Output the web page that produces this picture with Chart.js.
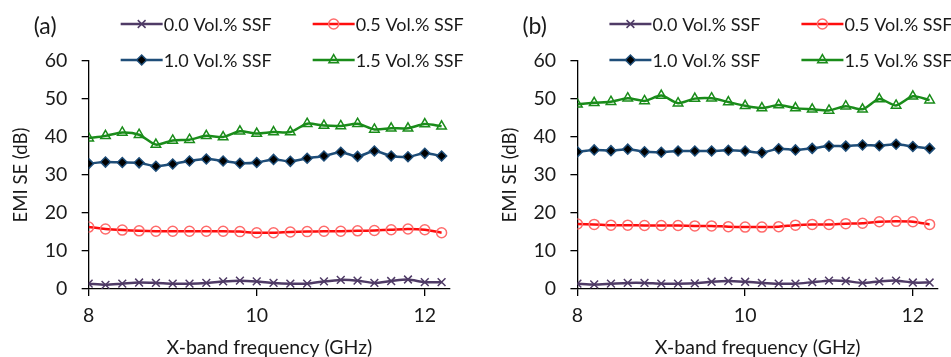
<!DOCTYPE html>
<html>
<head>
<meta charset="utf-8">
<script src="https://cdn.jsdelivr.net/npm/chart.js@4"></script>
<style>
  html, body { margin: 0; padding: 0; background: #fff; }
  .row { display: flex; width: 951px; height: 357px; }
  .panel { position: relative; height: 357px; }
</style>
</head>
<body>
<div class="row">
  <div class="panel" style="width:475px"><canvas id="chartA"></canvas></div>
  <div class="panel" style="width:476px"><canvas id="chartB"></canvas></div>
</div>
<script>
// X-band frequency points (GHz)
const freq = [8.0, 8.2, 8.4, 8.6, 8.8, 9.0, 9.2, 9.4, 9.6, 9.8, 10.0,
  10.2, 10.4, 10.6, 10.8, 11.0, 11.2, 11.4, 11.6, 11.8, 12.0, 12.2];
const xTicks = [8, 10, 12];
const seriesNames = ["0.0 Vol.% SSF", "0.5 Vol.% SSF", "1.0 Vol.% SSF", "1.5 Vol.% SSF"];

// panel (a)
const a00 = [1.4, 1.1, 1.4, 1.7, 1.6, 1.4, 1.4, 1.6, 2.0, 2.2, 2.0, 1.6, 1.4, 1.4, 2.0, 2.4, 2.2, 1.6, 2.1, 2.5, 1.8, 1.8];
const a05 = [16.3, 15.8, 15.5, 15.3, 15.2, 15.2, 15.2, 15.2, 15.2, 15.1, 14.8, 14.8, 15.0, 15.1, 15.2, 15.2, 15.3, 15.4, 15.6, 15.8, 15.6, 14.8];
const a10 = [33.0, 33.4, 33.3, 33.2, 32.3, 32.9, 33.7, 34.2, 33.7, 33.1, 33.3, 34.1, 33.6, 34.4, 35.0, 36.0, 34.9, 36.3, 35.0, 34.8, 35.7, 35.0];
const a15 = [39.7, 40.3, 41.2, 40.6, 38.0, 39.1, 39.3, 40.3, 40.0, 41.5, 40.9, 41.3, 41.3, 43.5, 43.0, 42.9, 43.5, 42.0, 42.3, 42.3, 43.4, 42.8];

// panel (b)
const b00 = [1.4, 1.2, 1.4, 1.6, 1.6, 1.4, 1.4, 1.5, 1.9, 2.1, 1.9, 1.6, 1.4, 1.4, 1.8, 2.2, 2.1, 1.6, 2.0, 2.2, 1.7, 1.7];
const b05 = [17.1, 17.0, 16.8, 16.8, 16.7, 16.7, 16.7, 16.6, 16.6, 16.4, 16.3, 16.3, 16.4, 16.8, 17.0, 17.0, 17.2, 17.3, 17.7, 17.8, 17.7, 17.0];
const b10 = [36.1, 36.6, 36.4, 36.8, 36.1, 36.0, 36.3, 36.3, 36.3, 36.5, 36.3, 35.9, 36.9, 36.6, 37.0, 37.6, 37.6, 37.9, 37.7, 38.1, 37.5, 37.0];
const b15 = [48.6, 49.0, 49.3, 50.2, 49.5, 50.9, 48.9, 50.1, 50.2, 49.2, 48.2, 47.6, 48.4, 47.6, 47.3, 47.0, 48.1, 47.3, 50.0, 48.3, 50.7, 49.7];

const FONT = "Lato, 'Open Sans', sans-serif";
const TXT = "#1a1a1a";

const styles = [
  { color: "#4f3b66", pointStyle: "crossRot", fill: "#4f3b66", radius: 5.5 },
  { color: "#ff0d0d", pointStyle: "circle", fill: "rgba(255,255,255,0)", radius: 5, pointColor: "#ff6b6b" },
  { color: "#1f4e79", pointStyle: "rectRot", fill: "#000000", radius: 5 },
  { color: "#1a8c1a", pointStyle: "triangle", fill: "rgba(255,255,255,0)", radius: 5.5 }
];

function toXY(vals) {
  return vals.map((v, i) => ({ x: freq[i], y: v }));
}

// legend in 2x2 grid plus the panel letter, drawn above the plot
const panelDecor = {
  id: "panelDecor",
  afterDraw(chart, args, opts) {
    const ctx = chart.ctx;
    const left = chart.chartArea.left;
    ctx.save();
    ctx.fillStyle = TXT;
    ctx.font = "23px " + FONT;
    ctx.textBaseline = "middle";
    ctx.textAlign = "left";
    ctx.fillText(opts.letter, left - 55, 27);

    const cols = [left + 32, left + 224];
    const rows = [24, 60];
    chart.data.datasets.forEach((ds, i) => {
      const x0 = cols[i % 2];
      const y0 = rows[Math.floor(i / 2)];
      ctx.strokeStyle = ds.borderColor;
      ctx.lineWidth = 2.5;
      ctx.beginPath();
      ctx.moveTo(x0, y0);
      ctx.lineTo(x0 + 42, y0);
      ctx.stroke();
      ctx.strokeStyle = ds.pointBorderColor;
      ctx.fillStyle = ds.pointBackgroundColor;
      ctx.lineWidth = 1.5;
      Chart.helpers.drawPoint(ctx, {
        pointStyle: ds.pointStyle,
        radius: ds.pointRadius,
        borderWidth: 1.5,
        rotation: 0
      }, x0 + 21, y0);
      ctx.fillStyle = TXT;
      ctx.font = "18px " + FONT;
      ctx.fillText(ds.label, x0 + 43, y0 + 1);
    });
    ctx.restore();
  }
};

function makePanel(id, letter, series, padLeft, padRight) {
  const datasets = series.map((vals, i) => {
    const s = styles[i];
    return {
      label: seriesNames[i],
      data: toXY(vals),
      borderColor: s.color,
      backgroundColor: s.fill,
      borderWidth: 2.5,
      pointStyle: s.pointStyle,
      pointRadius: s.radius,
      pointBorderColor: s.pointColor || s.color,
      pointBackgroundColor: s.fill,
      pointBorderWidth: 1.5,
      tension: 0.25
    };
  });
  return new Chart(document.getElementById(id), {
    type: "line",
    data: { datasets },
    plugins: [panelDecor],
    options: {
      responsive: true,
      maintainAspectRatio: false,
      animation: false,
      layout: { padding: { top: 61, left: padLeft, right: padRight, bottom: 0 } },
      plugins: {
        legend: { display: false },
        tooltip: { enabled: false },
        panelDecor: { letter: letter }
      },
      scales: {
        x: {
          type: "linear",
          min: 8,
          max: 12.3,
          afterBuildTicks: (scale) => { scale.ticks = xTicks.map(v => ({ value: v })); },
          grid: { drawOnChartArea: false, drawTicks: true, tickLength: 7, color: "#000", lineWidth: 1.3 },
          border: { display: true, color: "#000", width: 1.3 },
          ticks: { color: TXT, font: { family: FONT, size: 19.5, lineHeight: 1 }, padding: 9.5, maxRotation: 0 },
          title: { display: true, text: "X-band frequency (GHz)", color: TXT, font: { family: FONT, size: 19.5, lineHeight: 1 }, padding: { top: 3, bottom: 0 } }
        },
        y: {
          min: 0,
          max: 60,
          ticks: { stepSize: 10, color: TXT, font: { family: FONT, size: 19.5, lineHeight: 1 }, padding: 14.4 },
          grid: { drawOnChartArea: false, drawTicks: true, tickLength: 7, color: "#000", lineWidth: 1.3 },
          border: { display: true, color: "#000", width: 1.3 },
          title: { display: true, text: "EMI SE (dB)", color: TXT, font: { family: FONT, size: 18.5, lineHeight: 1 }, padding: { top: 0, bottom: 0 } }
        }
      }
    }
  });
}

makePanel("chartA", "(a)", [a00, a05, a10, a15], 11.75, 25);
makePanel("chartB", "(b)", [b00, b05, b10, b15], 25.5, 13);
</script>
</body>
</html>
